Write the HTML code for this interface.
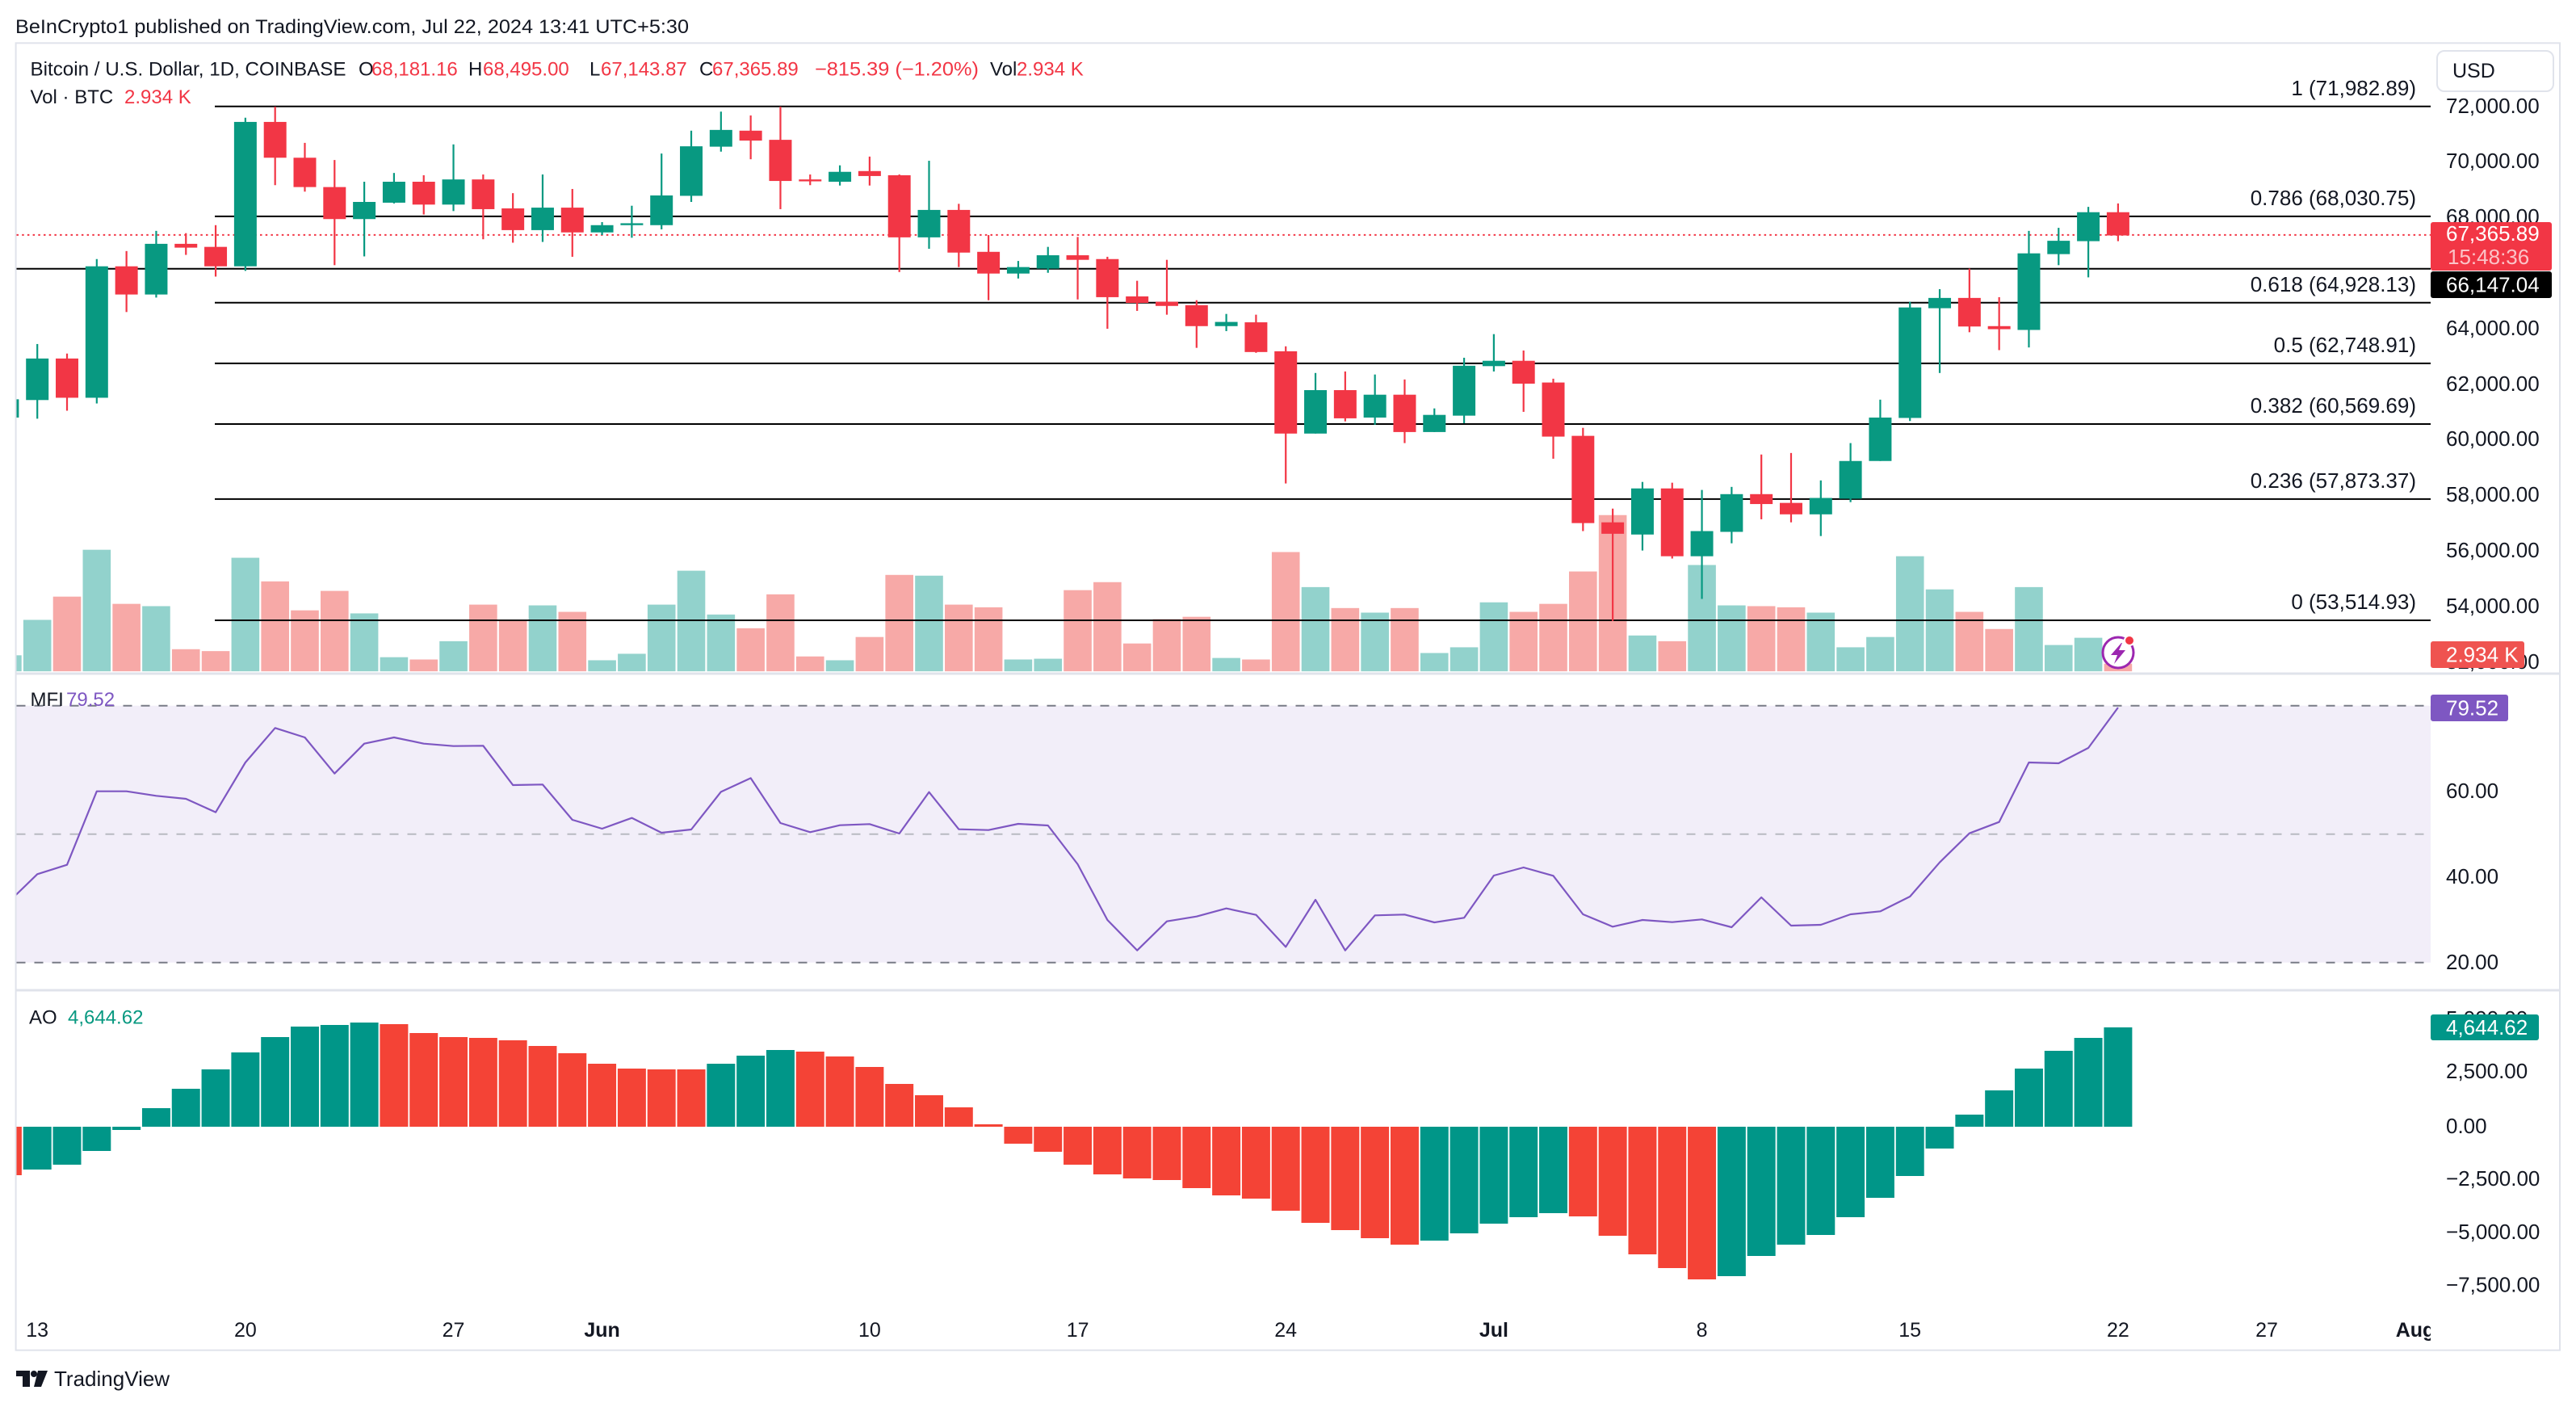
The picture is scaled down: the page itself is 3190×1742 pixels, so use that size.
<!DOCTYPE html>
<html><head><meta charset="utf-8">
<style>
html,body{margin:0;padding:0;background:#fff;overflow:hidden;}
svg{display:block;}
text{font-family:"Liberation Sans",Arial,sans-serif;}
</style></head>
<body>
<svg width="3190" height="1742" viewBox="0 0 3190 1742" xmlns="http://www.w3.org/2000/svg">
<defs>
<clipPath id="plot"><rect x="20.5" y="54" width="2989.5" height="779"/></clipPath>
<clipPath id="mfic"><rect x="20.5" y="835" width="2989.5" height="390"/></clipPath>
<clipPath id="aoc"><rect x="20.5" y="1227" width="2989.5" height="444"/></clipPath>
<clipPath id="xax"><rect x="20.5" y="1600" width="2989.5" height="70"/></clipPath>
</defs>
<rect width="3190" height="1742" fill="#fff"/>

<text x="19" y="41" font-size="24" fill="#131722" textLength="834" lengthAdjust="spacingAndGlyphs">BeInCrypto1 published on TradingView.com, Jul 22, 2024 13:41 UTC+5:30</text>

<rect x="19.6" y="53.3" width="3150.4" height="1618.4" fill="none" stroke="#e0e3eb" stroke-width="2"/>
<line x1="19.6" y1="834" x2="3170" y2="834" stroke="#e0e3eb" stroke-width="3"/>
<line x1="19.6" y1="1226" x2="3170" y2="1226" stroke="#e0e3eb" stroke-width="3"/>

<rect x="20.5" y="873.7" width="2989.5" height="318" fill="#f2eef9"/>
<line x1="20.5" y1="873.7" x2="3010" y2="873.7" stroke="#787b86" stroke-width="2" stroke-dasharray="11 11"/>
<line x1="20.5" y1="1032.7" x2="3010" y2="1032.7" stroke="#b8bac1" stroke-width="2" stroke-dasharray="11 11"/>
<line x1="20.5" y1="1191.7" x2="3010" y2="1191.7" stroke="#787b86" stroke-width="2" stroke-dasharray="11 11"/>

<!-- VOLUME -->
<g clip-path="url(#plot)">
<g transform="translate(46.2,100) scale(36.81,0.471698)">
<g fill="#92d2cc">
<rect x="-1.47" y="1508" width="0.94" height="42"/>
<rect x="-0.47" y="1415" width="0.94" height="135"/>
<rect x="1.53" y="1231" width="0.94" height="319"/>
<rect x="3.53" y="1379" width="0.94" height="171"/>
<rect x="6.53" y="1252" width="0.94" height="298"/>
<rect x="10.53" y="1398" width="0.94" height="152"/>
<rect x="11.53" y="1513" width="0.94" height="37"/>
<rect x="13.53" y="1471" width="0.94" height="79"/>
<rect x="16.53" y="1377" width="0.94" height="173"/>
<rect x="18.53" y="1521" width="0.94" height="29"/>
<rect x="19.53" y="1504" width="0.94" height="46"/>
<rect x="20.53" y="1375" width="0.94" height="175"/>
<rect x="21.53" y="1286" width="0.94" height="264"/>
<rect x="22.53" y="1401" width="0.94" height="149"/>
<rect x="26.53" y="1521" width="0.94" height="29"/>
<rect x="29.53" y="1299" width="0.94" height="251"/>
<rect x="32.53" y="1519" width="0.94" height="31"/>
<rect x="33.53" y="1517" width="0.94" height="33"/>
<rect x="39.53" y="1515" width="0.94" height="35"/>
<rect x="42.53" y="1329" width="0.94" height="221"/>
<rect x="44.53" y="1396" width="0.94" height="154"/>
<rect x="46.53" y="1502" width="0.94" height="48"/>
<rect x="47.53" y="1487" width="0.94" height="63"/>
<rect x="48.53" y="1369" width="0.94" height="181"/>
<rect x="53.53" y="1456" width="0.94" height="94"/>
<rect x="55.53" y="1271" width="0.94" height="279"/>
<rect x="56.53" y="1377" width="0.94" height="173"/>
<rect x="59.53" y="1396" width="0.94" height="154"/>
<rect x="60.53" y="1487" width="0.94" height="63"/>
<rect x="61.53" y="1460" width="0.94" height="90"/>
<rect x="62.53" y="1248" width="0.94" height="302"/>
<rect x="63.53" y="1335" width="0.94" height="215"/>
<rect x="66.53" y="1329" width="0.94" height="221"/>
<rect x="67.53" y="1481" width="0.94" height="69"/>
<rect x="68.53" y="1462" width="0.94" height="88"/>
</g>
<g fill="#f7a9a7">
<rect x="0.53" y="1354" width="0.94" height="196"/>
<rect x="2.53" y="1373" width="0.94" height="177"/>
<rect x="4.53" y="1492" width="0.94" height="58"/>
<rect x="5.53" y="1497" width="0.94" height="53"/>
<rect x="7.53" y="1314" width="0.94" height="236"/>
<rect x="8.53" y="1390" width="0.94" height="160"/>
<rect x="9.53" y="1339" width="0.94" height="211"/>
<rect x="12.53" y="1519" width="0.94" height="31"/>
<rect x="14.53" y="1375" width="0.94" height="175"/>
<rect x="15.53" y="1415" width="0.94" height="135"/>
<rect x="17.53" y="1394" width="0.94" height="156"/>
<rect x="23.53" y="1437" width="0.94" height="113"/>
<rect x="24.53" y="1348" width="0.94" height="202"/>
<rect x="25.53" y="1511" width="0.94" height="39"/>
<rect x="27.53" y="1460" width="0.94" height="90"/>
<rect x="28.53" y="1297" width="0.94" height="253"/>
<rect x="30.53" y="1375" width="0.94" height="175"/>
<rect x="31.53" y="1382" width="0.94" height="168"/>
<rect x="34.53" y="1337" width="0.94" height="213"/>
<rect x="35.53" y="1316" width="0.94" height="234"/>
<rect x="36.53" y="1477" width="0.94" height="73"/>
<rect x="37.53" y="1413" width="0.94" height="137"/>
<rect x="38.53" y="1407" width="0.94" height="143"/>
<rect x="40.53" y="1519" width="0.94" height="31"/>
<rect x="41.53" y="1237" width="0.94" height="313"/>
<rect x="43.53" y="1384" width="0.94" height="166"/>
<rect x="45.53" y="1384" width="0.94" height="166"/>
<rect x="49.53" y="1394" width="0.94" height="156"/>
<rect x="50.53" y="1373" width="0.94" height="177"/>
<rect x="51.53" y="1288" width="0.94" height="262"/>
<rect x="52.53" y="1140" width="0.94" height="410"/>
<rect x="54.53" y="1471" width="0.94" height="79"/>
<rect x="57.53" y="1379" width="0.94" height="171"/>
<rect x="58.53" y="1382" width="0.94" height="168"/>
<rect x="64.53" y="1394" width="0.94" height="156"/>
<rect x="65.53" y="1439" width="0.94" height="111"/>
<rect x="69.53" y="1530" width="0.94" height="20"/>
</g>
</g>
</g>

<!-- fib + horizontal lines -->
<g stroke="#000" stroke-width="2">
<line x1="266" y1="131.8" x2="3010" y2="131.8"/>
<line x1="266" y1="267.9" x2="3010" y2="267.9"/>
<line x1="266" y1="374.8" x2="3010" y2="374.8"/>
<line x1="266" y1="449.9" x2="3010" y2="449.9"/>
<line x1="266" y1="525.0" x2="3010" y2="525.0"/>
<line x1="266" y1="617.9" x2="3010" y2="617.9"/>
<line x1="266" y1="768.0" x2="3010" y2="768.0"/>
<line x1="20.5" y1="332.8" x2="3010" y2="332.8"/>
</g>
<line x1="20.5" y1="290.9" x2="3010" y2="290.9" stroke="#f23645" stroke-width="2" stroke-dasharray="2.5 4.2"/>

<!-- CANDLES -->
<g clip-path="url(#plot)">
<g transform="translate(46.2,100) scale(36.81,0.471698)">
<g fill="#089981">
<rect x="-1.03" y="820" width="0.06" height="75"/><rect x="-1.38" y="836" width="0.76" height="48"/>
<rect x="-0.03" y="691" width="0.06" height="196"/><rect x="-0.38" y="729" width="0.76" height="109"/>
<rect x="1.97" y="468" width="0.06" height="379"/><rect x="1.62" y="487" width="0.76" height="345"/>
<rect x="3.97" y="394" width="0.06" height="175"/><rect x="3.62" y="428" width="0.76" height="133"/>
<rect x="6.97" y="97" width="0.06" height="402"/><rect x="6.62" y="108" width="0.76" height="379"/>
<rect x="10.97" y="265" width="0.06" height="196"/><rect x="10.62" y="318" width="0.76" height="45"/>
<rect x="11.97" y="242" width="0.06" height="80"/><rect x="11.62" y="265" width="0.76" height="55"/>
<rect x="13.97" y="167" width="0.06" height="175"/><rect x="13.62" y="259" width="0.76" height="66"/>
<rect x="16.97" y="246" width="0.06" height="177"/><rect x="16.62" y="333" width="0.76" height="59"/>
<rect x="18.97" y="371" width="0.06" height="34"/><rect x="18.62" y="379" width="0.76" height="19"/>
<rect x="19.97" y="328" width="0.06" height="84"/><rect x="19.62" y="374" width="0.76" height="5"/>
<rect x="20.97" y="191" width="0.06" height="199"/><rect x="20.62" y="301" width="0.76" height="78"/>
<rect x="21.97" y="131" width="0.06" height="187"/><rect x="21.62" y="172" width="0.76" height="130"/>
<rect x="22.97" y="81" width="0.06" height="105"/><rect x="22.62" y="129" width="0.76" height="44"/>
<rect x="26.97" y="222" width="0.06" height="53"/><rect x="26.62" y="239" width="0.76" height="26"/>
<rect x="29.97" y="210" width="0.06" height="231"/><rect x="29.62" y="339" width="0.76" height="72"/>
<rect x="32.97" y="473" width="0.06" height="46"/><rect x="32.62" y="489" width="0.76" height="17"/>
<rect x="33.97" y="436" width="0.06" height="68"/><rect x="33.62" y="458" width="0.76" height="35"/>
<rect x="39.97" y="612" width="0.06" height="45"/><rect x="39.62" y="633" width="0.76" height="11"/>
<rect x="42.97" y="767" width="0.06" height="159"/><rect x="42.62" y="812" width="0.76" height="114"/>
<rect x="44.97" y="771" width="0.06" height="132"/><rect x="44.62" y="824" width="0.76" height="60"/>
<rect x="46.97" y="860" width="0.06" height="62"/><rect x="46.62" y="877" width="0.76" height="45"/>
<rect x="47.97" y="727" width="0.06" height="172"/><rect x="47.62" y="748" width="0.76" height="131"/>
<rect x="48.97" y="665" width="0.06" height="98"/><rect x="48.62" y="735" width="0.76" height="14"/>
<rect x="53.97" y="1053" width="0.06" height="180"/><rect x="53.62" y="1070" width="0.76" height="121"/>
<rect x="55.97" y="1074" width="0.06" height="286"/><rect x="55.62" y="1182" width="0.76" height="66"/>
<rect x="56.97" y="1066" width="0.06" height="148"/><rect x="56.62" y="1085" width="0.76" height="99"/>
<rect x="59.97" y="1049" width="0.06" height="146"/><rect x="59.62" y="1095" width="0.76" height="43"/>
<rect x="60.97" y="951" width="0.06" height="155"/><rect x="60.62" y="998" width="0.76" height="99"/>
<rect x="61.97" y="837" width="0.06" height="161"/><rect x="61.62" y="884" width="0.76" height="114"/>
<rect x="62.97" y="580" width="0.06" height="313"/><rect x="62.62" y="595" width="0.76" height="290"/>
<rect x="63.97" y="547" width="0.06" height="220"/><rect x="63.62" y="570" width="0.76" height="27"/>
<rect x="66.97" y="394" width="0.06" height="306"/><rect x="66.62" y="453" width="0.76" height="201"/>
<rect x="67.97" y="386" width="0.06" height="98"/><rect x="67.62" y="420" width="0.76" height="35"/>
<rect x="68.97" y="331" width="0.06" height="185"/><rect x="68.62" y="345" width="0.76" height="76"/>
</g>
<g fill="#f23645">
<rect x="0.97" y="716" width="0.06" height="150"/><rect x="0.62" y="729" width="0.76" height="103"/>
<rect x="2.97" y="447" width="0.06" height="160"/><rect x="2.62" y="487" width="0.76" height="74"/>
<rect x="4.97" y="400" width="0.06" height="57"/><rect x="4.62" y="428" width="0.76" height="10"/>
<rect x="5.97" y="379" width="0.06" height="135"/><rect x="5.62" y="436" width="0.76" height="51"/>
<rect x="7.97" y="68" width="0.06" height="206"/><rect x="7.62" y="108" width="0.76" height="94"/>
<rect x="8.97" y="163" width="0.06" height="128"/><rect x="8.62" y="202" width="0.76" height="77"/>
<rect x="9.97" y="208" width="0.06" height="276"/><rect x="9.62" y="279" width="0.76" height="84"/>
<rect x="12.97" y="248" width="0.06" height="103"/><rect x="12.62" y="265" width="0.76" height="60"/>
<rect x="14.97" y="246" width="0.06" height="170"/><rect x="14.62" y="259" width="0.76" height="78"/>
<rect x="15.97" y="295" width="0.06" height="130"/><rect x="15.62" y="335" width="0.76" height="57"/>
<rect x="17.97" y="284" width="0.06" height="178"/><rect x="17.62" y="333" width="0.76" height="65"/>
<rect x="23.97" y="91" width="0.06" height="115"/><rect x="23.62" y="131" width="0.76" height="26"/>
<rect x="24.97" y="68" width="0.06" height="269"/><rect x="24.62" y="155" width="0.76" height="108"/>
<rect x="25.97" y="246" width="0.06" height="28"/><rect x="25.62" y="259" width="0.76" height="5"/>
<rect x="27.97" y="199" width="0.06" height="76"/><rect x="27.62" y="237" width="0.76" height="13"/>
<rect x="28.97" y="246" width="0.06" height="256"/><rect x="28.62" y="248" width="0.76" height="163"/>
<rect x="30.97" y="323" width="0.06" height="166"/><rect x="30.62" y="339" width="0.76" height="112"/>
<rect x="31.97" y="405" width="0.06" height="171"/><rect x="31.62" y="449" width="0.76" height="57"/>
<rect x="34.97" y="410" width="0.06" height="164"/><rect x="34.62" y="458" width="0.76" height="12"/>
<rect x="35.97" y="462" width="0.06" height="189"/><rect x="35.62" y="468" width="0.76" height="100"/>
<rect x="36.97" y="525" width="0.06" height="79"/><rect x="36.62" y="566" width="0.76" height="17"/>
<rect x="37.97" y="470" width="0.06" height="144"/><rect x="37.62" y="580" width="0.76" height="11"/>
<rect x="38.97" y="576" width="0.06" height="125"/><rect x="38.62" y="589" width="0.76" height="55"/>
<rect x="40.97" y="614" width="0.06" height="100"/><rect x="40.62" y="634" width="0.76" height="78"/>
<rect x="41.97" y="697" width="0.06" height="360"/><rect x="41.62" y="710" width="0.76" height="216"/>
<rect x="43.97" y="763" width="0.06" height="131"/><rect x="43.62" y="812" width="0.76" height="74"/>
<rect x="45.97" y="784" width="0.06" height="167"/><rect x="45.62" y="824" width="0.76" height="98"/>
<rect x="49.97" y="708" width="0.06" height="161"/><rect x="49.62" y="735" width="0.76" height="60"/>
<rect x="50.97" y="782" width="0.06" height="210"/><rect x="50.62" y="792" width="0.76" height="142"/>
<rect x="51.97" y="911" width="0.06" height="271"/><rect x="51.62" y="932" width="0.76" height="229"/>
<rect x="52.97" y="1123" width="0.06" height="295"/><rect x="52.62" y="1159" width="0.76" height="30"/>
<rect x="54.97" y="1055" width="0.06" height="199"/><rect x="54.62" y="1070" width="0.76" height="178"/>
<rect x="57.97" y="981" width="0.06" height="170"/><rect x="57.62" y="1085" width="0.76" height="26"/>
<rect x="58.97" y="977" width="0.06" height="182"/><rect x="58.62" y="1108" width="0.76" height="30"/>
<rect x="64.97" y="493" width="0.06" height="167"/><rect x="64.62" y="570" width="0.76" height="75"/>
<rect x="65.97" y="568" width="0.06" height="139"/><rect x="65.62" y="644" width="0.76" height="8"/>
<rect x="69.97" y="322" width="0.06" height="99"/><rect x="69.62" y="345" width="0.76" height="61"/>
</g>
</g>
</g>

<g font-size="26" fill="#131722" text-anchor="end">
<text x="2992" y="118">1 (71,982.89)</text>
<text x="2992" y="254">0.786 (68,030.75)</text>
<text x="2992" y="361">0.618 (64,928.13)</text>
<text x="2992" y="436">0.5 (62,748.91)</text>
<text x="2992" y="511">0.382 (60,569.69)</text>
<text x="2992" y="604">0.236 (57,873.37)</text>
<text x="2992" y="754">0 (53,514.93)</text>
</g>

<text x="37.5" y="93.6" font-size="24" fill="#131722" textLength="391" lengthAdjust="spacingAndGlyphs">Bitcoin / U.S. Dollar, 1D, COINBASE</text>
<g font-size="24">
<text x="444" y="93.6" fill="#131722">O</text><text x="460" y="93.6" fill="#f23645">68,181.16</text>
<text x="580" y="93.6" fill="#131722">H</text><text x="598" y="93.6" fill="#f23645">68,495.00</text>
<text x="730" y="93.6" fill="#131722">L</text><text x="744" y="93.6" fill="#f23645">67,143.87</text>
<text x="866" y="93.6" fill="#131722">C</text><text x="882" y="93.6" fill="#f23645">67,365.89</text>
<text x="1009" y="93.6" fill="#f23645" textLength="203" lengthAdjust="spacingAndGlyphs">−815.39 (−1.20%)</text>
<text x="1226" y="93.6" fill="#131722">Vol</text><text x="1259" y="93.6" fill="#f23645">2.934 K</text>
<text x="37.5" y="128" fill="#131722">Vol · BTC</text><text x="154" y="128" fill="#f23645">2.934 K</text>
</g>

<rect x="3018" y="63" width="144" height="50" rx="9" fill="#fff" stroke="#e0e3eb" stroke-width="2"/>
<text x="3037" y="96" font-size="25" fill="#131722">USD</text>

<g font-size="26" fill="#131722">
<text x="3029" y="140">72,000.00</text>
<text x="3029" y="208">70,000.00</text>
<text x="3029" y="277">68,000.00</text>
<text x="3029" y="415">64,000.00</text>
<text x="3029" y="484">62,000.00</text>
<text x="3029" y="552">60,000.00</text>
<text x="3029" y="621">58,000.00</text>
<text x="3029" y="690">56,000.00</text>
<text x="3029" y="759">54,000.00</text>
<text x="3029" y="828">52,000.00</text>
</g>
<rect x="3010" y="275" width="150" height="60" rx="3" fill="#f23645"/>
<text x="3029" y="298" font-size="26" fill="#fff">67,365.89</text>
<text x="3031" y="327" font-size="26" fill="#fff" fill-opacity="0.7">15:48:36</text>
<rect x="3010" y="336" width="150" height="33" rx="3" fill="#000"/>
<text x="3029" y="361.5" font-size="26" fill="#fff">66,147.04</text>
<rect x="3010" y="794" width="116" height="33" rx="3" fill="#ef5350"/>
<text x="3029" y="819.5" font-size="26" fill="#fff">2.934 K</text>

<circle cx="2623" cy="808" r="19" fill="#fff" stroke="#9c27b0" stroke-width="3"/>
<polygon points="2627,796 2614,811 2622,811 2618,822 2632,805 2624,805 2628,796" fill="#9c27b0"/>
<circle cx="2637" cy="793" r="6" fill="#f23645" stroke="#fff" stroke-width="2"/>

<!-- MFI -->
<g clip-path="url(#mfic)">
<g transform="translate(46.2,840) scale(36.81,0.333333)">
<polyline fill="none" stroke="#7e57c2" stroke-width="2.2" stroke-linejoin="round" vector-effect="non-scaling-stroke" points="-1,834 0,727 1,692 2,419 3,419 4,436 5,447 6,497 7,312 8,184 9,219 10,353 11,242 12,219 13,242 14,251 15,250 16,396 17,394 18,525 19,558 20,518 21,573 22,561 23,421 24,370 25,537 26,571 27,545 28,541 29,576 30,422 31,560 32,563 33,540 34,546 35,690 36,897 37,1010 38,902 39,884 40,854 41,878 42,997 43,822 44,1010 45,880 46,877 47,906 48,889 49,732 50,702 51,733 52,876 53,922 54,897 55,905 56,895 57,924 58,813 59,918 60,915 61,876 62,865 63,810 64,683 65,575 66,533 67,312 68,315 69,258 70,108"/>
</g>
</g>
<text x="37.5" y="874" font-size="24" fill="#131722">MFI</text>
<text x="82" y="874" font-size="24" fill="#7e57c2">79.52</text>
<g font-size="26" fill="#131722">
<text x="3029" y="988">60.00</text>
<text x="3029" y="1094">40.00</text>
<text x="3029" y="1200">20.00</text>
</g>
<rect x="3010" y="860" width="96" height="33" rx="3" fill="#7e57c2"/>
<text x="3029" y="885.5" font-size="26" fill="#fff">79.52</text>

<!-- AO -->
<g clip-path="url(#aoc)">
<g transform="translate(46.2,1225) scale(36.81,0.333333)">
<g fill="#009688">
<rect x="-0.475" y="510" width="0.95" height="159"/>
<rect x="0.525" y="510" width="0.95" height="141"/>
<rect x="1.525" y="510" width="0.95" height="90"/>
<rect x="2.525" y="510" width="0.95" height="12"/>
<rect x="3.525" y="441" width="0.95" height="69"/>
<rect x="4.525" y="369" width="0.95" height="141"/>
<rect x="5.525" y="297" width="0.95" height="213"/>
<rect x="6.525" y="234" width="0.95" height="276"/>
<rect x="7.525" y="177" width="0.95" height="333"/>
<rect x="8.525" y="138" width="0.95" height="372"/>
<rect x="9.525" y="132" width="0.95" height="378"/>
<rect x="10.525" y="123" width="0.95" height="387"/>
<rect x="22.525" y="276" width="0.95" height="234"/>
<rect x="23.525" y="246" width="0.95" height="264"/>
<rect x="24.525" y="225" width="0.95" height="285"/>
<rect x="46.525" y="510" width="0.95" height="423"/>
<rect x="47.525" y="510" width="0.95" height="396"/>
<rect x="48.525" y="510" width="0.95" height="360"/>
<rect x="49.525" y="510" width="0.95" height="336"/>
<rect x="50.525" y="510" width="0.95" height="321"/>
<rect x="56.525" y="510" width="0.95" height="555"/>
<rect x="57.525" y="510" width="0.95" height="480"/>
<rect x="58.525" y="510" width="0.95" height="438"/>
<rect x="59.525" y="510" width="0.95" height="402"/>
<rect x="60.525" y="510" width="0.95" height="336"/>
<rect x="61.525" y="510" width="0.95" height="264"/>
<rect x="62.525" y="510" width="0.95" height="183"/>
<rect x="63.525" y="510" width="0.95" height="81"/>
<rect x="64.525" y="465" width="0.95" height="45"/>
<rect x="65.525" y="375" width="0.95" height="135"/>
<rect x="66.525" y="294" width="0.95" height="216"/>
<rect x="67.525" y="228" width="0.95" height="282"/>
<rect x="68.525" y="180" width="0.95" height="330"/>
<rect x="69.525" y="141" width="0.95" height="369"/>
</g>
<g fill="#f44336">
<rect x="-1.475" y="510" width="0.95" height="180"/>
<rect x="11.525" y="129" width="0.95" height="381"/>
<rect x="12.525" y="162" width="0.95" height="348"/>
<rect x="13.525" y="177" width="0.95" height="333"/>
<rect x="14.525" y="180" width="0.95" height="330"/>
<rect x="15.525" y="189" width="0.95" height="321"/>
<rect x="16.525" y="210" width="0.95" height="300"/>
<rect x="17.525" y="237" width="0.95" height="273"/>
<rect x="18.525" y="276" width="0.95" height="234"/>
<rect x="19.525" y="294" width="0.95" height="216"/>
<rect x="20.525" y="297" width="0.95" height="213"/>
<rect x="21.525" y="297" width="0.95" height="213"/>
<rect x="25.525" y="231" width="0.95" height="279"/>
<rect x="26.525" y="249" width="0.95" height="261"/>
<rect x="27.525" y="288" width="0.95" height="222"/>
<rect x="28.525" y="351" width="0.95" height="159"/>
<rect x="29.525" y="393" width="0.95" height="117"/>
<rect x="30.525" y="438" width="0.95" height="72"/>
<rect x="31.525" y="501" width="0.95" height="9"/>
<rect x="32.525" y="510" width="0.95" height="63"/>
<rect x="33.525" y="510" width="0.95" height="93"/>
<rect x="34.525" y="510" width="0.95" height="141"/>
<rect x="35.525" y="510" width="0.95" height="177"/>
<rect x="36.525" y="510" width="0.95" height="192"/>
<rect x="37.525" y="510" width="0.95" height="198"/>
<rect x="38.525" y="510" width="0.95" height="228"/>
<rect x="39.525" y="510" width="0.95" height="255"/>
<rect x="40.525" y="510" width="0.95" height="267"/>
<rect x="41.525" y="510" width="0.95" height="312"/>
<rect x="42.525" y="510" width="0.95" height="357"/>
<rect x="43.525" y="510" width="0.95" height="384"/>
<rect x="44.525" y="510" width="0.95" height="414"/>
<rect x="45.525" y="510" width="0.95" height="438"/>
<rect x="51.525" y="510" width="0.95" height="333"/>
<rect x="52.525" y="510" width="0.95" height="405"/>
<rect x="53.525" y="510" width="0.95" height="474"/>
<rect x="54.525" y="510" width="0.95" height="525"/>
<rect x="55.525" y="510" width="0.95" height="567"/>
</g>
</g>
</g>
<text x="36" y="1267.6" font-size="24" fill="#131722">AO</text>
<text x="84" y="1267.6" font-size="24" fill="#089981">4,644.62</text>
<g font-size="26" fill="#131722">
<text x="3029" y="1270">5,000.00</text>
<text x="3029" y="1335">2,500.00</text>
<text x="3029" y="1403">0.00</text>
<text x="3029" y="1468">−2,500.00</text>
<text x="3029" y="1534">−5,000.00</text>
<text x="3029" y="1599.5">−7,500.00</text>
</g>
<rect x="3010" y="1256" width="134" height="32" rx="3" fill="#009688"/>
<text x="3029" y="1281" font-size="26" fill="#fff">4,644.62</text>

<g font-size="25" fill="#131722" text-anchor="middle" clip-path="url(#xax)">
<text x="46.2" y="1655">13</text>
<text x="303.9" y="1655">20</text>
<text x="561.5" y="1655">27</text>
<text x="745.6" y="1655" font-weight="bold">Jun</text>
<text x="1076.9" y="1655">10</text>
<text x="1334.6" y="1655">17</text>
<text x="1592.2" y="1655">24</text>
<text x="1849.9" y="1655" font-weight="bold">Jul</text>
<text x="2107.6" y="1655">8</text>
<text x="2365.2" y="1655">15</text>
<text x="2622.9" y="1655">22</text>
<text x="2807" y="1655">27</text>
<text x="2991" y="1655" font-weight="bold">Aug</text>
</g>

<g fill="#131722">
<rect x="20" y="1697" width="17" height="7"/>
<rect x="28" y="1697" width="9" height="20"/>
<circle cx="42" cy="1701" r="4"/>
<polygon points="47,1697 59,1697 51,1717 42,1717"/>
</g>
<text x="67" y="1716" font-size="26" fill="#131722">TradingView</text>
</svg>
</body></html>
